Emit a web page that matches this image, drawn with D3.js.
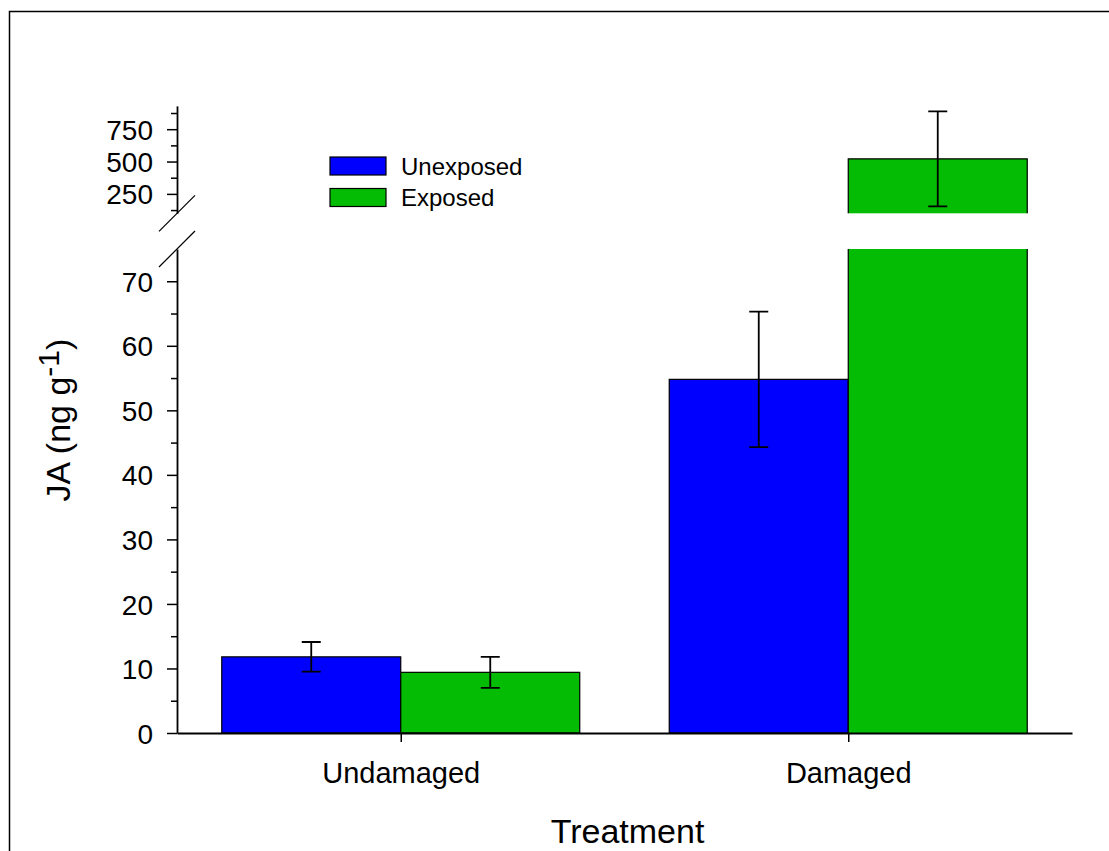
<!DOCTYPE html>
<html>
<head>
<meta charset="utf-8">
<script src="https://cdn.jsdelivr.net/npm/d3@7/dist/d3.min.js"></script>
<style>
  html, body { margin: 0; padding: 0; background: #fff; }
  svg { display: block; font-family: "Liberation Sans", Arial, sans-serif; }
</style>
</head>
<body>
<svg id="chart" width="1109" height="851"></svg>
<script>
// Treatment groups and exposure series
const categories = ["Undamaged", "Damaged"];
const seriesNames = ["Unexposed", "Exposed"];
const seriesColors = ["#0000ff", "#05bc05"];

// Mean JA content (ng g-1) and error per treatment, by series
const unexposedMeans = [11.8, 54.8];
const unexposedErrors = [2.3, 10.5];
const exposedMeans = [9.4, 521];
const exposedErrors = [2.4, 367];

// Axis tick values for the lower and upper (broken) segments
const lowerMajorTicks = [0, 10, 20, 30, 40, 50, 60, 70];
const lowerMinorTicks = [5, 15, 25, 35, 45, 55, 65];
const upperMajorTicks = [250, 500, 750];
const upperMinorTicks = [125, 375, 625, 875];

const means = [unexposedMeans, exposedMeans];
const errors = [unexposedErrors, exposedErrors];

const bars = [];
categories.forEach((c, ci) => {
  seriesNames.forEach((s, si) => {
    bars.push({ category: c, series: s, si, value: means[si][ci], err: errors[si][ci] });
  });
});

const svg = d3.select("#chart");
svg.append("rect").attr("width", 1109).attr("height", 851).attr("fill", "#fff");

// frame around the figure
svg.append("rect")
  .attr("x", 9.5).attr("y", 11.5)
  .attr("width", 1200).attr("height", 1000)
  .attr("fill", "none").attr("stroke", "#000").attr("stroke-width", 1.5);

const left = 177, right = 1072;

const x = d3.scalePoint().domain(categories).range([left, right]).padding(0.5);
const halfGroup = 179;
const xs = d3.scaleBand().domain(seriesNames).range([-halfGroup, halfGroup]);

const yLow = d3.scaleLinear().domain([0, 75]).range([733, 249]);
const yHigh = d3.scaleLinear().domain([100, 930]).range([213.3, 105.9]);

const fontTick = 28;

// ---- bars ----
const gBars = svg.append("g");
bars.forEach(d => {
  const x0 = x(d.category) + xs(d.series);
  const w = xs.bandwidth();
  const color = seriesColors[d.si];
  const lowMax = yLow.domain()[1];
  if (d.value <= lowMax) {
    gBars.append("rect")
      .attr("x", x0).attr("y", yLow(d.value))
      .attr("width", w).attr("height", yLow(0) - yLow(d.value))
      .attr("fill", color).attr("stroke", "#000").attr("stroke-width", 1.2);
  } else {
    // lower segment, cut at the axis break
    gBars.append("rect")
      .attr("x", x0).attr("y", yLow(lowMax))
      .attr("width", w).attr("height", yLow(0) - yLow(lowMax))
      .attr("fill", color);
    gBars.append("path")
      .attr("d", `M${x0},${yLow(lowMax)}V${yLow(0)}M${x0 + w},${yLow(lowMax)}V${yLow(0)}`)
      .attr("stroke", "#000").attr("stroke-width", 1.2).attr("fill", "none");
    // upper segment
    const yb = yHigh(yHigh.domain()[0]);
    gBars.append("rect")
      .attr("x", x0).attr("y", yHigh(d.value))
      .attr("width", w).attr("height", yb - yHigh(d.value))
      .attr("fill", color);
    gBars.append("path")
      .attr("d", `M${x0},${yb}V${yHigh(d.value)}H${x0 + w}V${yb}`)
      .attr("stroke", "#000").attr("stroke-width", 1.2).attr("fill", "none");
  }
});

// ---- error bars ----
const gErr = svg.append("g").attr("stroke", "#000").attr("stroke-width", 1.8).attr("fill", "none");
const capHalf = 9.5;
bars.forEach(d => {
  const cx = x(d.category) + xs(d.series) + xs.bandwidth() / 2;
  const y = d.value <= yLow.domain()[1] ? yLow : yHigh;
  const y1 = y(d.value + d.err), y2 = y(d.value - d.err);
  gErr.append("path")
    .attr("d", `M${cx},${y1}V${y2}M${cx - capHalf},${y1}H${cx + capHalf}M${cx - capHalf},${y2}H${cx + capHalf}`);
});

// ---- y axes ----
function styleAxis(g) {
  g.selectAll("path.domain").attr("stroke", "#000").attr("stroke-width", 1.8);
  g.selectAll(".tick line").attr("stroke", "#000").attr("stroke-width", 1.5);
  g.selectAll(".tick text")
    .attr("font-size", fontTick).attr("fill", "#000")
    .attr("font-family", "Liberation Sans, Arial, sans-serif");
}

const gLow = svg.append("g").attr("transform", `translate(${left},0)`)
  .call(d3.axisLeft(yLow).tickValues(lowerMajorTicks).tickSize(10).tickSizeOuter(0).tickPadding(14));
styleAxis(gLow);
gLow.selectAll(".tick text").attr("dy", "0.36em");
const gLowMinor = svg.append("g").attr("transform", `translate(${left},0)`)
  .call(d3.axisLeft(yLow).tickValues(lowerMinorTicks).tickSize(6).tickFormat(""));
gLowMinor.select("path.domain").remove();
styleAxis(gLowMinor);

const gHigh = svg.append("g").attr("transform", `translate(${left},0)`)
  .call(d3.axisLeft(yHigh).tickValues(upperMajorTicks).tickSize(10).tickSizeOuter(0).tickPadding(14));
styleAxis(gHigh);
gHigh.selectAll(".tick text").attr("dy", "0.36em");
const gHighMinor = svg.append("g").attr("transform", `translate(${left},0)`)
  .call(d3.axisLeft(yHigh).tickValues(upperMinorTicks).tickSize(6).tickFormat(""));
gHighMinor.select("path.domain").remove();
styleAxis(gHighMinor);

// axis break marks
const brk = 18;
[yHigh.range()[0], yLow.range()[1]].forEach(yy => {
  svg.append("line")
    .attr("x1", left - brk).attr("y1", yy + brk)
    .attr("x2", left + brk).attr("y2", yy - brk)
    .attr("stroke", "#000").attr("stroke-width", 1.2);
});

// ---- x axis ----
const gX = svg.append("g").attr("transform", `translate(0,${yLow(0)})`)
  .call(d3.axisBottom(x).tickSize(9).tickSizeOuter(0));
styleAxis(gX);
gX.selectAll(".tick text").attr("font-size", 29).attr("y", 50).attr("dy", 0);

// ---- axis titles ----
svg.append("text")
  .attr("x", (left + right) / 2 + 3).attr("y", 843)
  .attr("text-anchor", "middle").attr("font-size", 34).attr("fill", "#000")
  .text("Treatment");

const yTitle = svg.append("text")
  .attr("transform", "translate(70,420) rotate(-90)")
  .attr("text-anchor", "middle").attr("font-size", 34).attr("fill", "#000");
yTitle.append("tspan").text("JA (ng g");
yTitle.append("tspan").attr("dy", -11).attr("font-size", 30).text("-1");
yTitle.append("tspan").attr("dy", 11).text(")");

// ---- legend ----
const legend = svg.append("g").attr("transform", "translate(330,157)");
seriesNames.forEach((s, i) => {
  const row = legend.append("g").attr("transform", `translate(0,${i * 31.5})`);
  row.append("rect").attr("width", 56).attr("height", 18)
    .attr("fill", seriesColors[i]).attr("stroke", "#000").attr("stroke-width", 1.2);
  row.append("text").attr("x", 71).attr("y", 17.5)
    .attr("font-size", 24).attr("fill", "#000").text(s);
});
</script>
</body>
</html>
